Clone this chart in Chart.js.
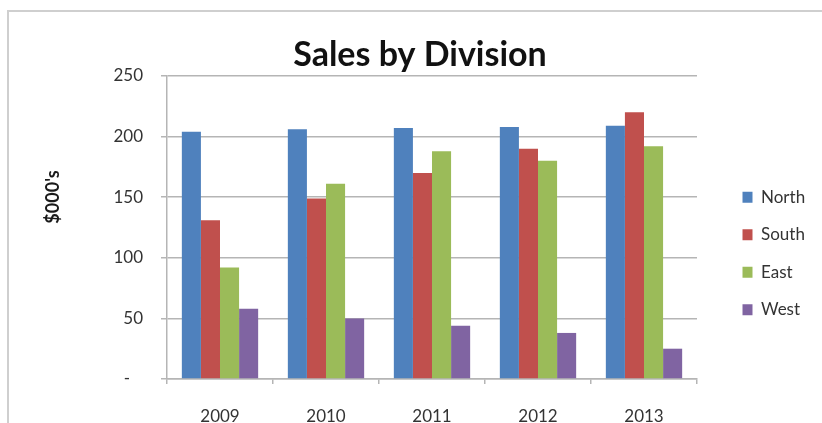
<!DOCTYPE html>
<html>
<head>
<meta charset="utf-8">
<title>Sales by Division</title>
<script src="https://cdn.jsdelivr.net/npm/chart.js@4.4.1/dist/chart.umd.min.js"></script>
<style>
    html, body { margin: 0; padding: 0; background: #fff; overflow: hidden; }
    #wrap { position: relative; width: 822px; height: 423px; }
    #frame { position: absolute; left: 7px; top: 10px; right: -4px; bottom: -4px;
             border-left: 2px solid #cfcfcf; border-top: 2px solid #cfcfcf; }
    #myChart { position: absolute; left: 0; top: 0; }
</style>
</head>
<body>
<div id="wrap">
    <div id="frame"></div>
    <canvas id="myChart" width="822" height="423"></canvas>
</div>
<script>
/* 차트 데이터 */
let years = ['2009', '2010', '2011', '2012', '2013'];
let divisions = ['North', 'South', 'East', 'West'];
let north = [204, 206, 207, 208, 209];
let south = [131, 149, 170, 190, 220];
let east = [92, 161, 188, 180, 192];
let west = [58, 50, 44, 38, 25];
let yTicks = [0, 50, 100, 150, 200, 250];
let chartTitle = 'Sales by Division';
let yAxisTitle = "$000's";

let seriesList = [north, south, east, west];
let colorList = ['#4F81BD', '#C0504D', '#9BBB59', '#8064A2'];

let datasets = [];
for (let i = 0; i < divisions.length; i++) {
    datasets.push({
        label: divisions[i],
        data: seriesList[i],
        backgroundColor: colorList[i],
        borderWidth: 0
    });
}

/* 범례 위치 보정 */
let legendPlace = {
    id: 'legendPlace',
    afterInit: function (chart) {
        let lg = chart.legend;
        let fit = lg.fit;
        lg.fit = function () {
            fit.call(this);
            if (!this.isHorizontal()) {
                this.width = 125;
            }
        };
    },
    afterLayout: function (chart) {
        let lg = chart.legend;
        lg.left += 25;
        lg.right += 25;
        lg.top += 42;
        lg.bottom += 42;
    }
};

/* 세로축 제목 */
let yTitle = {
    id: 'yTitle',
    afterDraw: function (chart) {
        let ctx = chart.ctx;
        ctx.save();
        ctx.translate(53, 197);
        ctx.rotate(-Math.PI / 2);
        ctx.font = 'bold 18px Lato';
        ctx.fillStyle = '#1a1a1a';
        ctx.textAlign = 'center';
        ctx.textBaseline = 'middle';
        ctx.fillText(yAxisTitle, 0, 0);
        ctx.restore();
    }
};

Chart.defaults.font.family = 'Lato';
Chart.defaults.color = '#333';

let ctx = document.getElementById('myChart').getContext('2d');

let myChart = new Chart(ctx, {
    type: 'bar',
    data: {
        labels: years,
        datasets: datasets
    },
    options: {
        responsive: false,
        animation: false,
        layout: {
            padding: { left: 18, right: 0, top: 0, bottom: 0 }
        },
        datasets: {
            bar: {
                barPercentage: 1,
                categoryPercentage: 0.72
            }
        },
        scales: {
            x: {
                grid: {
                    offset: true,
                    drawOnChartArea: false,
                    tickLength: 5,
                    color: '#b5b5b5',
                    lineWidth: 1.5
                },
                border: { color: '#b5b5b5', width: 1.5 },
                ticks: {
                    font: { size: 17 },
                    color: '#333',
                    padding: 22
                },
                afterFit: function (scale) {
                    scale.height = 44;
                }
            },
            y: {
                min: yTicks[0],
                max: yTicks[yTicks.length - 1],
                grid: {
                    tickLength: 6,
                    color: '#b5b5b5',
                    lineWidth: 1.5
                },
                border: { color: '#b5b5b5', width: 1.5 },
                ticks: {
                    stepSize: yTicks[1] - yTicks[0],
                    font: { size: 17 },
                    color: '#333',
                    padding: 18,
                    callback: function (value) {
                        return value === 0 ? '-   ' : value;
                    }
                },
                afterFit: function (scale) {
                    scale.width = 149;
                }
            }
        },
        plugins: {
            title: {
                display: true,
                text: chartTitle,
                color: '#111',
                font: { size: 34, weight: 'bold' },
                padding: { top: 35, bottom: 0.2 }
            },
            legend: {
                position: 'right',
                labels: {
                    boxWidth: 10,
                    boxHeight: 11,
                    padding: 20.5,
                    font: { size: 17 },
                    color: '#333'
                }
            },
            tooltip: { enabled: false }
        }
    },
    plugins: [legendPlace, yTitle]
});
</script>
</body>
</html>
